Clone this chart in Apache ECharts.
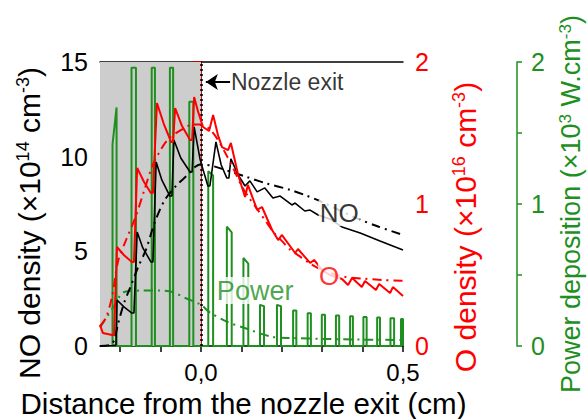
<!DOCTYPE html>
<html>
<head>
<meta charset="utf-8">
<script src="https://cdn.jsdelivr.net/npm/echarts@6/dist/echarts.min.js"></script>
<style>
html,body{margin:0;padding:0;background:#fff;}
#chart{width:587px;height:419px;}
</style>
</head>
<body>
<div id="chart"></div>
<script>
// ---------- data ----------
// x ticks / labels (cm)
const xTickValues = [-0.2, -0.1, 0, 0.1, 0.2, 0.3, 0.4, 0.5];
const xLabelValues = [0, 0.5];
const noTickLabels = [0, 5, 10, 15];
const oTickLabels = [0, 1, 2];
const powerTickLabels = [0, 1, 2];

// NO density, solid (x cm, 1e14 cm-3)
const noSolid = [
  [-0.25,0],[-0.218,0.03],[-0.2104,0.05],[-0.208,2.43],[-0.19,2.05],[-0.171,1.74],[-0.166,1.74],
  [-0.158,6.02],[-0.144,5.18],[-0.124,4.44],[-0.119,4.44],[-0.111,9.72],[-0.097,8.77],[-0.077,7.92],
  [-0.072,7.92],[-0.067,10.88],[-0.05,9.93],[-0.027,9.19],[-0.022,9.19],[-0.017,11.57],[-0.002,9.83],
  [0.017,8.45],[0.022,8.45],[0.037,10.78],[0.05,9.56],[0.064,8.87],[0.069,8.87],[0.074,9.88],
  [0.092,9.03],[0.109,8.45],[0.121,8.72],[0.139,8.14],[0.158,8.35],[0.178,7.82],[0.196,7.92],
  [0.225,7.45],[0.233,7.55],[0.257,7.13],[0.27,7.18],[0.29,6.92],[0.319,6.71],[0.349,6.29],
  [0.394,5.97],[0.443,5.55],[0.5,5.07]
];
// NO density, dash-dot (averaged)
const noAverage = [
  [-0.25,0],[-0.225,0.05],[-0.215,0.3],[-0.205,1.2],[-0.19,2.3],[-0.175,3.1],[-0.155,4.2],
  [-0.136,5.1],[-0.115,6.5],[-0.09,7.7],[-0.06,8.5],[-0.035,9.0],[-0.015,9.45],[0,9.6],[0.03,9.5],
  [0.06,9.3],[0.11,8.95],[0.16,8.6],[0.22,8.25],[0.26,7.95],[0.3,7.6],[0.385,6.75],[0.44,6.3],[0.5,5.86]
];
// O density, solid (x cm, 1e16 cm-3)
const oSolid = [
  [-0.25,0.148],[-0.243,0.092],[-0.22,0.077],[-0.2153,0.077],[-0.208,0.697],[-0.191,0.641],[-0.171,0.592],
  [-0.166,0.592],[-0.158,1.254],[-0.141,1.155],[-0.124,1.077],[-0.119,1.077],[-0.109,1.711],[-0.092,1.563],
  [-0.074,1.437],[-0.069,1.437],[-0.064,1.676],[-0.047,1.549],[-0.027,1.451],[-0.022,1.451],[-0.017,1.754],
  [-0.007,1.648],[0.005,1.542],[0.02,1.514],[0.03,1.627],[0.042,1.486],[0.052,1.401],[0.067,1.38],
  [0.074,1.43],[0.092,1.204],[0.109,1.049],[0.116,1.134],[0.139,0.958],[0.151,0.979],[0.176,0.817],
  [0.191,0.746],[0.2,0.782],[0.233,0.655],[0.24,0.683],[0.27,0.585],[0.28,0.606],[0.3,0.535],
  [0.319,0.5],[0.349,0.472],[0.364,0.43],[0.374,0.479],[0.398,0.415],[0.406,0.458],[0.433,0.394],
  [0.441,0.437],[0.468,0.373],[0.475,0.415],[0.5,0.352]
];
// O density, dash-dot (averaged)
const oAverage = [
  [-0.25,0.14],[-0.235,0.2],[-0.22,0.35],[-0.205,0.6],[-0.185,0.75],[-0.163,0.9],[-0.14,1.1],
  [-0.12,1.27],[-0.1,1.38],[-0.08,1.46],[-0.05,1.52],[-0.02,1.56],[0,1.56],[0.02,1.53],[0.04,1.46],
  [0.06,1.36],[0.08,1.25],[0.1,1.13],[0.12,1.04],[0.14,0.96],[0.16,0.88],[0.18,0.8],[0.2,0.74],
  [0.22,0.68],[0.24,0.64],[0.27,0.58],[0.3,0.535],[0.35,0.49],[0.4,0.475],[0.45,0.465],[0.5,0.46]
];
// Power deposition pulses (x start, x end, top left, top right) in 1e3 W cm-3
const pulseStart = [-0.219,-0.172,-0.122,-0.077,-0.029,0.018,0.064,0.105,0.146,0.188,0.228,0.264,0.299,0.334,0.369,0.402,0.436,0.469,0.495];
const pulseEnd   = [-0.209,-0.161,-0.114,-0.069,-0.019,0.030,0.076,0.117,0.156,0.198,0.236,0.272,0.307,0.342,0.376,0.410,0.443,0.478,0.5];
const pulseTopL  = [1.42,1.96,1.96,1.96,1.72,1.23,0.84,0.62,0.29,0.29,0.25,0.23,0.22,0.215,0.21,0.205,0.2,0.195,0.19];
const pulseTopR  = [1.68,1.96,1.96,1.96,1.72,1.20,0.80,0.58,0.28,0.28,0.25,0.23,0.22,0.215,0.21,0.205,0.2,0.195,0.19];
// Power deposition, averaged (dash-dot)
const powerAverage = [
  [-0.25,0.13],[-0.22,0.26],[-0.19,0.38],[-0.15,0.39],[-0.1,0.39],[-0.07,0.38],[-0.04,0.34],[0,0.29],
  [0.02,0.24],[0.065,0.17],[0.11,0.125],[0.175,0.065],[0.23,0.056],[0.3,0.05],[0.4,0.045],[0.5,0.042]
];
// annotations
const nozzleExitX = 0;
const plasmaRegion = [-0.25, 0];

// ---------- build ----------
const RED = '#ff0000', GREEN = '#1f8f1f', FONT = '"Liberation Sans", Arial, sans-serif';
const pulseLine = [[-0.25, 0]];
for (let i = 0; i < pulseStart.length; i++) {
  pulseLine.push([pulseStart[i], 0], [pulseStart[i], pulseTopL[i]], [pulseEnd[i], pulseTopR[i]], [pulseEnd[i], 0]);
}

const chart = echarts.init(document.getElementById('chart'), null, {renderer: 'svg'});
const supRich = (c, s) => ({ sup: {fontSize: s, verticalAlign: 'top', color: c, fontFamily: FONT, padding: [0,0,11,0]} });

const option = {
  animation: false,
  backgroundColor: '#fff',
  textStyle: {fontFamily: FONT},
  grid: {left: 100, right: 184, top: 62, bottom: 73, containLabel: false, outerBoundsMode: 'none'},
  xAxis: [{
    type: 'value', min: -0.25, max: 0.5, position: 'bottom',
    axisLine: {show: true, onZero: false, lineStyle: {color: '#000', width: 1.5}},
    axisTick: {show: true, customValues: xTickValues, length: 6, lineStyle: {color: '#000', width: 1.5}},
    axisLabel: {customValues: xLabelValues, fontSize: 24, color: '#000', margin: 14, fontFamily: FONT,
      formatter: v => v.toFixed(1).replace('.', ',')},
    splitLine: {show: false},
    name: 'Distance from the nozzle exit (cm)', nameLocation: 'middle', nameGap: 41,
    nameTextStyle: {fontSize: 29.5, color: '#000', fontFamily: FONT, padding: [0, 16, 0, 0]}
  }, {
    type: 'value', min: -0.25, max: 0.5, position: 'top',
    axisLine: {show: true, onZero: false, lineStyle: {color: '#000', width: 1.5}},
    axisTick: {show: false}, axisLabel: {show: false}, splitLine: {show: false}
  }],
  yAxis: [{
    type: 'value', min: 0, max: 15, interval: 2.5, position: 'left',
    axisLine: {show: true, lineStyle: {color: '#000', width: 1.5}},
    axisTick: {show: true, length: 8, lineStyle: {color: '#000', width: 1.5}},
    axisLabel: {fontSize: 25, color: '#000', margin: 12, fontFamily: FONT,
      formatter: v => noTickLabels.includes(v) ? String(v) : ''},
    splitLine: {show: false},
    name: 'NO density (×10{sup|14} cm{sup|-3})', nameLocation: 'middle', nameRotate: 90, nameGap: 56,
    nameTextStyle: {fontSize: 30, color: '#000', fontFamily: FONT, rich: supRich('#000', 18), padding: [0, 38, 0, 0]}
  }, {
    type: 'value', min: 0, max: 2, interval: 0.5, position: 'right',
    axisLine: {show: true, lineStyle: {color: RED, width: 1.5}},
    axisTick: {show: true, inside: true, length: 8, lineStyle: {color: RED, width: 1.5}},
    axisLabel: {fontSize: 25, color: RED, margin: 12, fontFamily: FONT,
      formatter: v => oTickLabels.includes(v) ? String(v) : ''},
    splitLine: {show: false},
    name: 'O density (×10{sup|16} cm{sup|-3})', nameLocation: 'middle', nameRotate: 90, nameGap: 47,
    nameTextStyle: {fontSize: 30, color: RED, fontFamily: FONT, rich: supRich(RED, 18), padding: [0, 46, 0, 0]}
  }, {
    type: 'value', min: 0, max: 2, interval: 0.5, position: 'right', offset: 114,
    axisLine: {show: true, lineStyle: {color: GREEN, width: 1.5}},
    axisTick: {show: true, length: 5, lineStyle: {color: GREEN, width: 1.5}},
    axisLabel: {fontSize: 25, color: GREEN, margin: 14, fontFamily: FONT,
      formatter: v => powerTickLabels.includes(v) ? String(v) : ''},
    splitLine: {show: false},
    name: 'Power deposition (×10{sup|3} W.cm{sup|-3})', nameLocation: 'middle', nameRotate: 90, nameGap: 40,
    nameTextStyle: {fontSize: 27, color: GREEN, fontFamily: FONT, rich: supRich(GREEN, 17), padding: [0, 0, 0, 0]}
  }],
  series: [
    {
      name: 'Power', type: 'line', yAxisIndex: 2, data: pulseLine, symbol: 'none',
      lineStyle: {color: GREEN, width: 2}, z: 2,
      markArea: {silent: true, itemStyle: {color: '#cdcdcd'}, data: [[{xAxis: plasmaRegion[0]}, {xAxis: plasmaRegion[1]}]]},
      markLine: {silent: true, symbol: 'none', label: {show: false},
        lineStyle: {color: '#000', type: [2, 3], width: 2.5}, data: [{xAxis: nozzleExitX}]}
    },
    {
      name: 'Power avg', type: 'line', yAxisIndex: 2, data: powerAverage, symbol: 'none', smooth: 0.3,
      lineStyle: {color: GREEN, width: 2, type: [9, 5, 2, 5]}, z: 3
    },
    {
      name: 'NO', type: 'line', yAxisIndex: 0, data: noSolid, symbol: 'none',
      lineStyle: {color: '#000', width: 1.6}, z: 4
    },
    {
      name: 'NO avg', type: 'line', yAxisIndex: 0, data: noAverage, symbol: 'none', smooth: 0.3,
      lineStyle: {color: '#000', width: 2, type: [9, 5, 2, 5]}, z: 4
    },
    {
      name: 'O', type: 'line', yAxisIndex: 1, data: oSolid, symbol: 'none',
      lineStyle: {color: RED, width: 2}, z: 5
    },
    {
      name: 'O avg', type: 'line', yAxisIndex: 1, data: oAverage, symbol: 'none', smooth: 0.3,
      lineStyle: {color: RED, width: 2, type: [9, 5, 2, 5]}, z: 5
    },
    {
      name: 'labelsNO', type: 'scatter', yAxisIndex: 0, symbolSize: 0, z: 10, silent: true,
      data: [
        {value: [0.342, 7.03], label: {show: true, formatter: 'NO', position: 'inside', fontSize: 26, color: '#000', backgroundColor: '#fff', padding: [0, 1]}},
        {value: [0.074, 13.95], label: {show: true, formatter: 'Nozzle exit', position: 'right', distance: 0, fontSize: 23, color: '#000'}}
      ],
      markLine: {silent: true, symbol: ['none', 'arrow'], symbolSize: [12, 12], label: {show: false},
        lineStyle: {color: '#000', width: 2, type: 'solid'},
        data: [[{coord: [0.072, 13.95]}, {coord: [0.012, 13.95]}]]}
    },
    {
      name: 'labelsO', type: 'scatter', yAxisIndex: 1, symbolSize: 0, z: 10, silent: true,
      data: [{value: [0.317, 0.493], label: {show: true, formatter: 'O', position: 'inside', fontSize: 26, color: RED, backgroundColor: '#fff', padding: [0, 1]}}]
    },
    {
      name: 'labelsP', type: 'scatter', yAxisIndex: 2, symbolSize: 0, z: 10, silent: true,
      data: [{value: [0.134, 0.39], label: {show: true, formatter: 'Power', position: 'inside', fontSize: 27, color: GREEN, backgroundColor: '#fff', padding: [0, 1]}}]
    }
  ]
};
chart.setOption(option);
</script>
</body>
</html>
